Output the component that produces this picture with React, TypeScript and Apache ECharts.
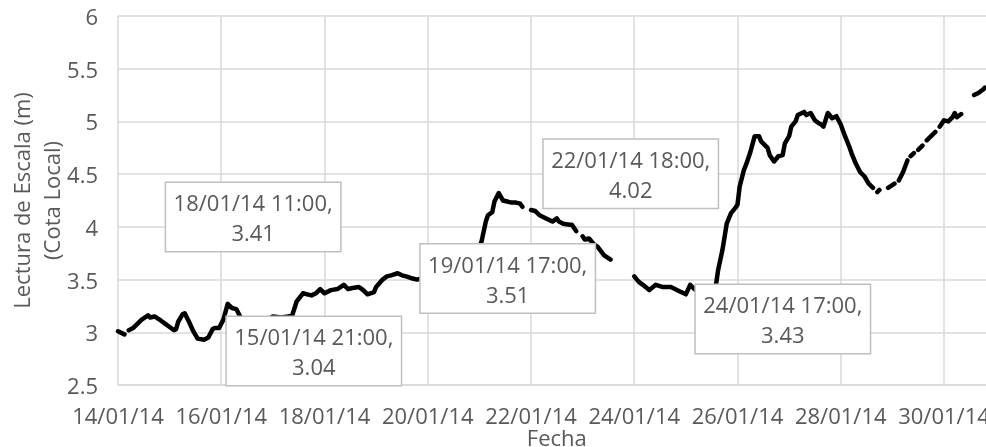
import React, { useEffect, useRef } from "react";
import * as echarts from "echarts";

// Hours since 14/01/14 00:00 and gauge readings (m); null = gap in the record
const hours = [
  0, 3, 4, 5, 7, 9, 11, 14, 15, 17, 20, 22, 24, 26, 27, 28, 30, 31, 33, 35, 37, 40, 42, 44, 45, 47, 49, 51, 53, 55, 57,
  60, 64, 68, 72, 76, 79, 81, 83, 86, 88, 90, 92, 94, 96, 99, 102, 105, 107, 109, 112, 114, 116, 119, 120, 123, 125,
  127, 130, 132, 134, 137, 139, 141, 145, 150, 155, 160, 164, 167, 169, 171, 172, 174, 175, 177, 179, 181, 183, 185,
  187, 188, 189, 192, 194, 196, 199, 202, 204, 205, 207, 210, 211, 213, 214, 216, 217, 219, 221, 223, 226, 229, 230,
  240, 242, 244, 247, 250, 253, 255, 257, 258, 261, 264, 266, 268, 271, 274, 278, 279, 281, 283, 285, 287, 288, 289,
  291, 292, 294, 296, 298, 299, 302, 303, 305, 307, 309, 310, 312, 313, 315, 316, 319, 320, 322, 324, 326, 327, 328,
  330, 332, 334, 336, 338, 340, 341, 343, 345, 347, 349, 351, 352, 353, 354, 355, 358, 361, 362, 363, 365, 367, 368,
  368.5, 370, 371, 372, 374, 375, 376, 378, 380, 381, 382, 384, 386, 388, 389, 390, 392, 393, 398, 400, 402, 403,
];
const levels: (number | null)[] = [
  3.01, 2.98, null, 3.02, 3.04, 3.08, 3.12, 3.16, 3.14, 3.15, 3.11, 3.08, 3.05, 3.02, 3.03, 3.1, 3.17, 3.18, 3.1, 3.01,
  2.94, 2.93, 2.95, 3.03, 3.04, 3.04, 3.12, 3.27, 3.23, 3.22, 3.14,
  3.08, 3.06, 3.1, 3.15, 3.14, 3.15, 3.16, 3.29, 3.37, 3.36, 3.35, 3.37, 3.41, 3.37, 3.4, 3.41, 3.45, 3.41, 3.42, 3.43,
  3.4, 3.36, 3.38, 3.43, 3.5, 3.53,
  3.54, 3.56, 3.54, 3.53, 3.51, 3.5, 3.51, 3.5, 3.5, 3.52, 3.56, 3.64, 3.76, 3.86, 4.05, 4.11, 4.14, 4.24, 4.32, 4.25,
  4.24, 4.23, 4.23,
  4.22, 4.19, null, 4.16, 4.15, 4.11, 4.08, 4.05, 4.08, 4.05, 4.03, 4.02, 4.02, 3.96, null, 3.91, 3.88, 3.89, 3.84,
  3.81, 3.73, 3.69, null,
  3.53, 3.48, 3.45, 3.4, 3.45, 3.43, 3.43, 3.43, 3.42, 3.39, 3.36, 3.45, 3.41, 3.37, 3.38, 3.45, 3.59, 3.78, 4.03, 4.13,
  4.18, 4.21, 4.38,
  4.54, 4.59, 4.71, 4.86, 4.86, 4.81, 4.75, 4.68, 4.62, 4.67, 4.68, 4.79, 4.86, 4.95, 5.0, 5.06, 5.09, 5.06, 5.08, 5.01,
  4.98, 4.97, 4.95,
  5.08, 5.03, 5.05, 4.97, 4.86, 4.76, 4.7, 4.6, 4.52, 4.48, 4.41, 4.37, null, 4.33, 4.35, null, 4.37, 4.41, null, 4.44,
  4.52, 4.63, null,
  4.67, 4.7, null, 4.73, 4.77, null, 4.82, 4.86, 4.9, null, 4.95, 5.01, 5.0, 5.04, 5.08, 5.04, 5.07, null, 5.25, 5.27,
  5.3, 5.32,
];

// Points carrying a data label (hours since start)
const labelledHours = [45, 107, 137, 210, 257];

const xTicks = ["14/01/14", "16/01/14", "18/01/14", "20/01/14", "22/01/14", "24/01/14", "26/01/14", "28/01/14", "30/01/14"];

const pad = (n: number) => (n < 10 ? "0" + n : "" + n);

export default function App() {
  const ref = useRef<HTMLDivElement>(null);
  useEffect(() => {
    if (!ref.current) return;
    const chart = echarts.init(ref.current, undefined, { renderer: "svg" });
    const lineData = hours.map((h, i) => [h, levels[i] === null ? "-" : levels[i]]);
    const offsets: Record<number, [number, number]> = {
      45: [99, 23],
      107: [-95, -72],
      137: [95, 0],
      210: [61, -51],
      257: [112, 32],
    };
    const labelData = labelledHours.map((h) => {
      const v = levels[hours.indexOf(h)] as number;
      return {
        value: [h, v],
        label: { offset: offsets[h] },
      };
    });
    const font = "'Open Sans', sans-serif";
    const fs = 22;
    chart.setOption({
      animation: false,
      textStyle: { fontFamily: font },
      grid: { left: 118, top: 16, bottom: 62, right: -9.6, outerBoundsMode: "none", containLabel: false },
      xAxis: {
        type: "value",
        min: 0,
        max: 408,
        interval: 48,
        name: "Fecha",
        nameLocation: "middle",
        nameGap: 41,
        nameMoveOverlap: false,
        nameTextStyle: { color: "#595959", fontSize: fs, fontFamily: font, lineHeight: 22 },
        axisLine: { show: true, lineStyle: { color: "#d9d9d9", width: 1.5 } },
        axisTick: { show: false },
        axisLabel: {
          color: "#595959",
          fontSize: fs,
          fontFamily: font,
          lineHeight: 22,
          margin: 19,
          hideOverlap: false,
          formatter: (v: number) => {
            const idx = Math.round(v / 48);
            return v % 48 === 0 && idx < xTicks.length ? xTicks[idx] : "";
          },
        },
        splitLine: { show: true, lineStyle: { color: "#d9d9d9", width: 1.5 } },
      },
      yAxis: {
        type: "value",
        min: 2.5,
        max: 6,
        interval: 0.5,
        name: "Lectura de Escala (m)\n(Cota Local)",
        nameLocation: "middle",
        nameGap: 52,
        nameRotate: 90,
        nameMoveOverlap: false,
        nameTextStyle: { color: "#595959", fontSize: fs, fontFamily: font, lineHeight: 30, align: "center" },
        axisLine: { show: false },
        axisTick: { show: false },
        axisLabel: { color: "#595959", fontSize: fs, fontFamily: font, margin: 20 },
        splitLine: { show: true, lineStyle: { color: "#d9d9d9", width: 1.5 } },
      },
      series: [
        {
          type: "line",
          data: lineData,
          showSymbol: false,
          symbol: "none",
          connectNulls: false,
          lineStyle: { color: "#000", width: 4.5, cap: "round", join: "round" },
          silent: true,
        },
        {
          type: "scatter",
          data: labelData,
          symbolSize: 1,
          itemStyle: { color: "transparent", opacity: 1 },
          silent: true,
          z: 5,
          label: {
            show: true,
            position: "inside",
            opacity: 1,
            formatter: (p: any) => {
              const h = p.value[0];
              const d = 14 + Math.floor(h / 24);
              const hr = h % 24;
              return `${pad(d)}/01/14 ${pad(hr)}:00,\n${p.value[1].toFixed(2)}`;
            },
            backgroundColor: "#ffffff",
            borderColor: "#bfbfbf",
            borderWidth: 1.5,
            color: "#595959",
            fontSize: fs,
            fontFamily: font,
            lineHeight: 30,
            width: 162,
            align: "center",
            verticalAlign: "middle",
            padding: [4, 6],
          },
        },
      ],
    });
    return () => chart.dispose();
  }, []);
  return <div ref={ref} style={{ position: "fixed", left: 0, top: 0, width: 986, height: 447 }} />;
}
